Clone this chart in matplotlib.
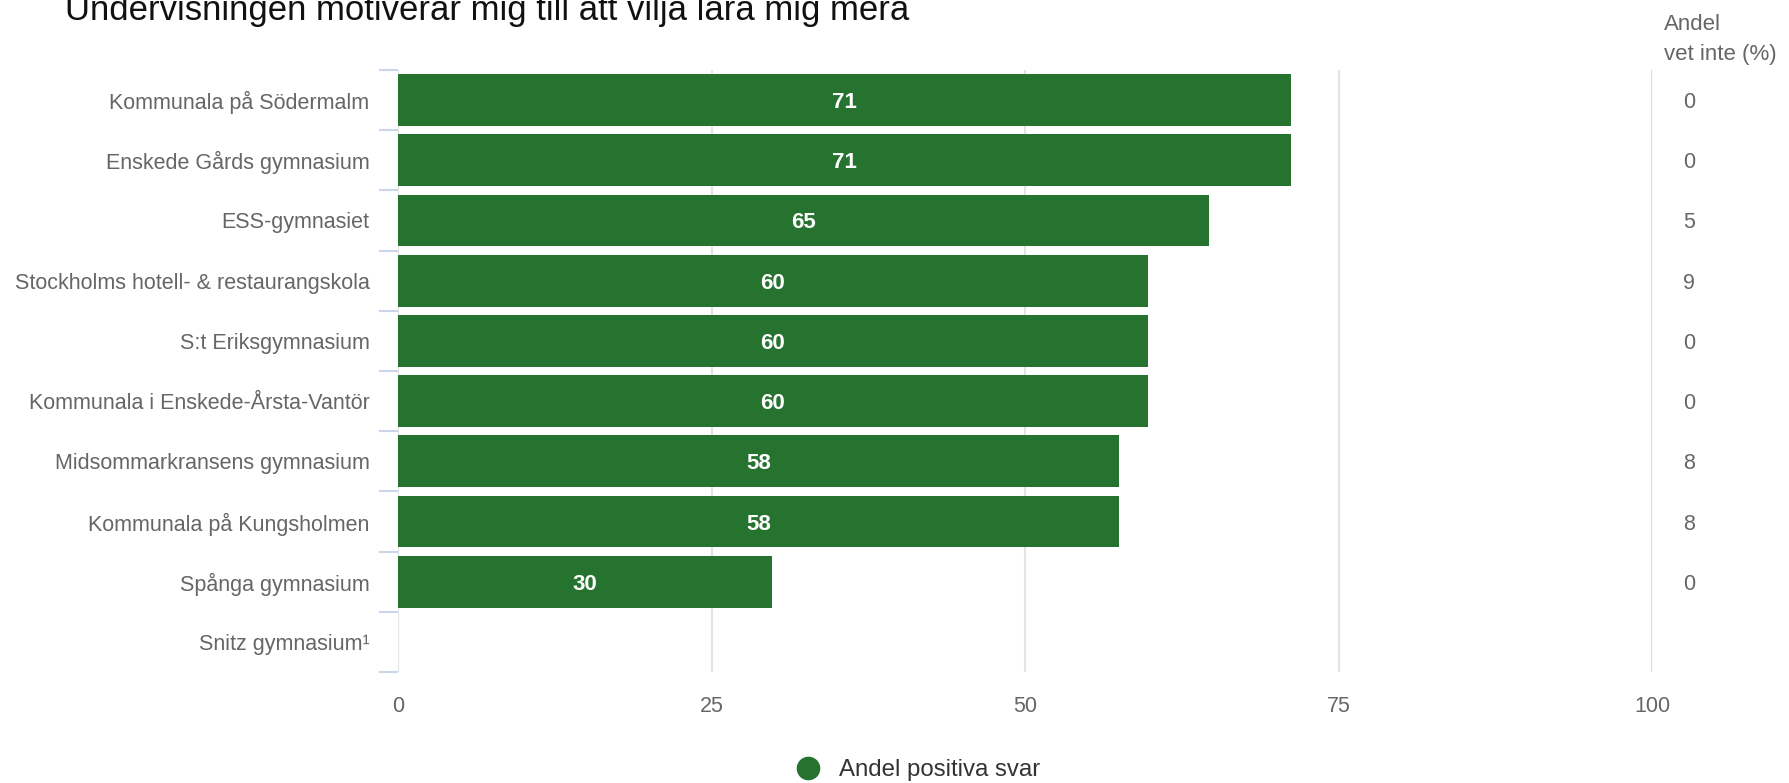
import matplotlib.pyplot as plt
from matplotlib.lines import Line2D

# ## DATA ##
schools = [
    "Kommunala på Södermalm",
    "Enskede Gårds gymnasium",
    "ESS-gymnasiet",
    "Stockholms hotell- & restaurangskola",
    "S:t Eriksgymnasium",
    "Kommunala i Enskede-Årsta-Vantör",
    "Midsommarkransens gymnasium",
    "Kommunala på Kungsholmen",
    "Spånga gymnasium",
    "Snitz gymnasium\u00b9",
]
positive = [71.2, 71.2, 64.7, 59.8, 59.8, 59.8, 57.5, 57.5, 29.8, None]
dont_know = ["0", "0", "5", "9", "0", "0", "8", "8", "0", ""]
x_ticks = [0, 25, 50, 75, 100]

TITLE = "Undervisningen motiverar mig till att vilja lära mig mera"
GREEN = "#267330"
GRID = "#e3e3e3"
AXBLUE = "#ccd6eb"
TXT = "#666666"

plt.rcParams.update({'font.family': ['Liberation Sans', 'DejaVu Sans']})

W, H = 1789, 783
fig = plt.figure(figsize=(W / 100, H / 100), dpi=100)
x0, x1, y0, y1 = 398, 1652, 70, 672
ax = fig.add_axes([x0 / W, 1 - y1 / H, (x1 - x0) / W, (y1 - y0) / H])

n = len(schools)
ypos = list(range(n))
vals = [v if v is not None else 0 for v in positive]
ax.barh(ypos, vals, height=0.86, color=GREEN, zorder=3)
for y, v in zip(ypos, positive):
    if v is not None:
        ax.text(v / 2, y, f"{round(v)}", color="white", fontsize=16, fontweight="bold",
                ha="center", va="center_baseline", zorder=4)

ax.set_xlim(0, 100)
ax.set_ylim(n - 0.5, -0.5)
ax.set_xticks(x_ticks)
ax.set_xticklabels([str(t) for t in x_ticks], fontsize=15.5, color=TXT)
ax.tick_params(axis='x', length=0, pad=17)
for t in x_ticks[1:-1]:
    ax.axvline(t, color=GRID, lw=1.5, zorder=1)
ax.axvline(100, color=AXBLUE, lw=2, zorder=1)
ax.axvline(0, color=GRID, lw=1.5, zorder=2)

ax.set_yticks(ypos)
ax.set_yticklabels(schools, fontsize=15.5, color=TXT, va="center_baseline")
ax.set_yticks([i - 0.5 for i in range(n + 1)], minor=True)
ax.tick_params(axis='y', which='major', length=0, pad=20.5)
ax.tick_params(axis='y', which='minor', length=14, width=1.5, color=AXBLUE)

for s in ax.spines.values():
    s.set_visible(False)

# right column: share "vet inte"
for y, d in zip(ypos, dont_know):
    ax.text(1.0295, y, d, transform=ax.get_yaxis_transform(), fontsize=15.5, color=TXT,
            ha="center", va="center_baseline")
fig.text(1664 / W, 1 - 30 / H, "Andel", fontsize=16, color=TXT, ha="left", va="baseline")
fig.text(1664 / W, 1 - 60 / H, "vet inte (%)", fontsize=16, color=TXT, ha="left", va="baseline")

fig.text(65 / W, 1 - 20 / H, TITLE, fontsize=25, color="#111111", ha="left", va="baseline")

handle = Line2D([], [], marker='o', linestyle='None', markersize=16,
                markerfacecolor=GREEN, markeredgecolor=GREEN, label="Andel positiva svar")
fig.legend(handles=[handle], loc="center", bbox_to_anchor=(0.51, 1 - 770 / H),
           frameon=False, fontsize=17.3, handletextpad=0.3, labelcolor="#333333")

fig.savefig("out.png", dpi=100, facecolor="white")
